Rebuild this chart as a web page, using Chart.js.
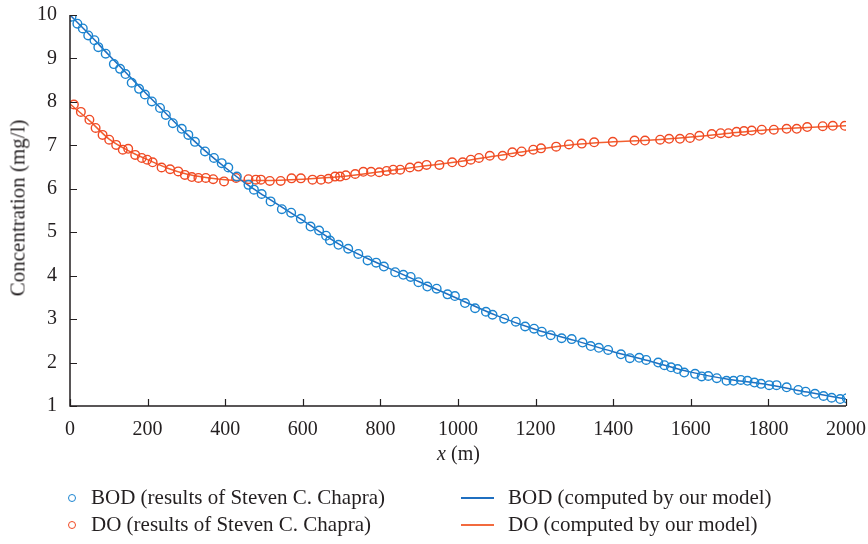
<!DOCTYPE html>
<html>
<head>
<meta charset="utf-8">
<script src="https://cdn.jsdelivr.net/npm/chart.js@4.4.1/dist/chart.umd.min.js"></script>
<style>
  body { margin: 0; background: #fff; }
  #wrap { position: relative; width: 868px; height: 544px; font-family: "Liberation Serif", "DejaVu Serif", serif; color: #231f20; }
  #wrap canvas { position: absolute; left: 0; top: 0; }
  .xtitle { position: absolute; left: 0; width: 917px; top: 442px; text-align: center; font-size: 20px; }
  .ytitle { position: absolute; left: 18px; top: 208px; transform: translate(-50%, -50%) rotate(-90deg); font-size: 21px; white-space: nowrap; }
  .leg { position: absolute; font-size: 21px; white-space: nowrap; display: flex; align-items: center; }
  .dot { width: 6px; height: 6px; border-radius: 50%; border: 1.5px solid; margin-right: 15px; }
  .ln { width: 33px; height: 2px; margin-right: 14px; }
</style>
</head>
<body>
<div id="wrap">
  <canvas id="chart" width="868" height="544"></canvas>
  <div class="ytitle">Concentration (mg/l)</div>
  <div class="xtitle"><i>x</i> (m)</div>
  <div class="leg" style="left:68px; top:485px;"><span class="dot" style="border-color:#1b84d0"></span>BOD (results of Steven C. Chapra)</div>
  <div class="leg" style="left:68px; top:512px;"><span class="dot" style="border-color:#f04a24"></span>DO (results of Steven C. Chapra)</div>
  <div class="leg" style="left:461px; top:485px;"><span class="ln" style="background:#1f6fc0"></span>BOD (computed by our model)</div>
  <div class="leg" style="left:461px; top:512px;"><span class="ln" style="background:#f26a3e"></span>DO (computed by our model)</div>
</div>
<script>
// observed points (Chapra)
const bodX = [4, 19, 33, 47, 63, 73, 92, 113, 129, 143, 159, 178, 193, 211, 232, 247, 265, 288, 305, 322, 348, 371, 391, 408, 430, 460, 474, 494, 517, 546, 570, 595, 620, 642, 660, 670, 692, 717, 743, 767, 789, 809, 838, 859, 878, 898, 921, 945, 973, 992, 1018, 1044, 1072, 1089, 1119, 1149, 1173, 1196, 1216, 1239, 1267, 1293, 1321, 1342, 1363, 1387, 1420, 1443, 1467, 1485, 1516, 1532, 1549, 1566, 1583, 1611, 1628, 1645, 1667, 1692, 1710, 1729, 1746, 1764, 1781, 1802, 1821, 1847, 1877, 1896, 1920, 1942, 1963, 1985, 2002];
const bodY = [9.96, 9.80, 9.69, 9.53, 9.42, 9.26, 9.11, 8.87, 8.76, 8.64, 8.44, 8.30, 8.17, 8.01, 7.86, 7.70, 7.51, 7.38, 7.24, 7.08, 6.86, 6.71, 6.59, 6.49, 6.28, 6.09, 5.98, 5.88, 5.71, 5.53, 5.45, 5.31, 5.13, 5.04, 4.92, 4.81, 4.71, 4.62, 4.50, 4.35, 4.30, 4.21, 4.08, 4.02, 3.97, 3.85, 3.75, 3.70, 3.57, 3.53, 3.37, 3.25, 3.17, 3.10, 3.01, 2.94, 2.83, 2.78, 2.71, 2.63, 2.56, 2.54, 2.46, 2.38, 2.34, 2.29, 2.19, 2.10, 2.11, 2.06, 2.00, 1.94, 1.89, 1.85, 1.77, 1.74, 1.68, 1.69, 1.64, 1.58, 1.58, 1.60, 1.58, 1.54, 1.51, 1.48, 1.48, 1.43, 1.37, 1.33, 1.28, 1.23, 1.19, 1.16, 1.18];
const doX = [10, 28, 50, 66, 84, 101, 119, 136, 150, 168, 185, 199, 213, 236, 258, 279, 296, 314, 331, 350, 369, 397, 428, 460, 479, 492, 515, 543, 571, 595, 625, 647, 666, 683, 696, 711, 735, 756, 776, 797, 816, 833, 851, 876, 898, 919, 952, 985, 1012, 1033, 1054, 1082, 1115, 1140, 1164, 1194, 1214, 1253, 1286, 1319, 1351, 1399, 1455, 1482, 1521, 1544, 1572, 1598, 1622, 1654, 1677, 1697, 1718, 1737, 1757, 1783, 1814, 1847, 1873, 1900, 1940, 1966, 1997];
const doY = [7.94, 7.77, 7.59, 7.40, 7.24, 7.13, 7.01, 6.90, 6.92, 6.78, 6.71, 6.67, 6.61, 6.49, 6.45, 6.40, 6.32, 6.27, 6.25, 6.25, 6.22, 6.17, 6.25, 6.22, 6.21, 6.21, 6.18, 6.18, 6.24, 6.24, 6.21, 6.21, 6.23, 6.28, 6.28, 6.31, 6.34, 6.39, 6.39, 6.38, 6.41, 6.44, 6.44, 6.49, 6.51, 6.55, 6.55, 6.61, 6.61, 6.67, 6.71, 6.76, 6.76, 6.84, 6.86, 6.90, 6.93, 6.97, 7.02, 7.04, 7.07, 7.08, 7.11, 7.11, 7.13, 7.15, 7.15, 7.17, 7.22, 7.26, 7.28, 7.28, 7.31, 7.33, 7.34, 7.36, 7.36, 7.38, 7.38, 7.42, 7.44, 7.45, 7.45];

// model curves
const modelX = [0, 50, 100, 150, 200, 250, 300, 350, 400, 450, 500, 600, 700, 800, 900, 1000, 1100, 1200, 1300, 1400, 1500, 1600, 1700, 1800, 1900, 2000];
const bodModel = [10.0, 9.55, 9.08, 8.62, 8.16, 7.71, 7.27, 6.86, 6.49, 6.14, 5.84, 5.27, 4.69, 4.26, 3.86, 3.47, 3.08, 2.76, 2.51, 2.25, 2.02, 1.78, 1.61, 1.49, 1.32, 1.16];
const doModel = [7.95, 7.57, 7.15, 6.88, 6.67, 6.48, 6.34, 6.26, 6.21, 6.19, 6.19, 6.22, 6.28, 6.39, 6.51, 6.62, 6.76, 6.90, 7.02, 7.08, 7.12, 7.19, 7.28, 7.36, 7.41, 7.45];

const xTicks = [0, 200, 400, 600, 800, 1000, 1200, 1400, 1600, 1800, 2000];
const yTicks = [1, 2, 3, 4, 5, 6, 7, 8, 9, 10];

const pts = (xs, ys) => xs.map((x, i) => ({ x: x, y: ys[i] }));

// axis lines with inward ticks
const inwardTicks = {
  id: 'inwardTicks',
  afterDraw(chart) {
    const ctx = chart.ctx;
    const xs = chart.scales.x, ys = chart.scales.y;
    const a = chart.chartArea;
    ctx.save();
    ctx.strokeStyle = '#231f20';
    ctx.lineWidth = 1.5;
    ctx.beginPath();
    ctx.moveTo(a.left, a.top);
    ctx.lineTo(a.left, a.bottom);
    ctx.lineTo(a.right, a.bottom);
    ctx.stroke();
    ctx.lineWidth = 1.2;
    ctx.beginPath();
    xTicks.forEach(v => {
      const px = Math.round(xs.getPixelForValue(v)) + 0.5;
      ctx.moveTo(px, a.bottom);
      ctx.lineTo(px, a.bottom - 7);
    });
    yTicks.forEach(v => {
      const py = Math.round(ys.getPixelForValue(v)) + 0.5;
      ctx.moveTo(a.left, py);
      ctx.lineTo(a.left + 7, py);
    });
    ctx.stroke();
    ctx.restore();
  }
};

const tickFont = { family: '"Liberation Serif", serif', size: 20 };

new Chart(document.getElementById('chart').getContext('2d'), {
  type: 'scatter',
  data: {
    datasets: [
      {
        label: 'BOD (computed by our model)',
        data: pts(modelX, bodModel),
        showLine: true,
        borderColor: '#1f6fc0',
        borderWidth: 1.5,
        pointRadius: 0,
        cubicInterpolationMode: 'monotone',
        order: 2
      },
      {
        label: 'DO (computed by our model)',
        data: pts(modelX, doModel),
        showLine: true,
        borderColor: '#f25f30',
        borderWidth: 1.5,
        pointRadius: 0,
        cubicInterpolationMode: 'monotone',
        order: 2
      },
      {
        label: 'BOD (results of Steven C. Chapra)',
        data: pts(bodX, bodY),
        pointStyle: 'circle',
        pointRadius: 4.3,
        pointBorderWidth: 1.4,
        borderColor: '#1b84d0',
        backgroundColor: 'rgba(255,255,255,0)',
        order: 1
      },
      {
        label: 'DO (results of Steven C. Chapra)',
        data: pts(doX, doY),
        pointStyle: 'circle',
        pointRadius: 4.3,
        pointBorderWidth: 1.4,
        borderColor: '#f04a24',
        backgroundColor: 'rgba(255,255,255,0)',
        order: 1
      }
    ]
  },
  options: {
    responsive: false,
    animation: false,
    layout: { padding: { top: 15, right: 22, bottom: 108, left: 0 } },
    plugins: {
      legend: { display: false },
      tooltip: { enabled: false }
    },
    scales: {
      x: {
        type: 'linear',
        min: 0,
        max: 2000,
        afterBuildTicks: s => { s.ticks = xTicks.map(v => ({ value: v })); },
        afterFit: s => { s.height = 30; s.paddingLeft = 0; s.paddingRight = 0; },
        grid: { display: false },
        border: { display: false },
        ticks: { color: '#231f20', font: tickFont, padding: 4, maxRotation: 0, callback: v => String(v) }
      },
      y: {
        min: 1,
        max: 10,
        afterBuildTicks: s => { s.ticks = yTicks.map(v => ({ value: v })); },
        afterFit: s => { s.width = 70; s.paddingTop = 0; s.paddingBottom = 0; },
        grid: { display: false },
        border: { display: false },
        ticks: { color: '#231f20', font: tickFont, padding: 5, callback: v => String(v) }
      }
    }
  },
  plugins: [inwardTicks]
});
</script>
</body>
</html>
